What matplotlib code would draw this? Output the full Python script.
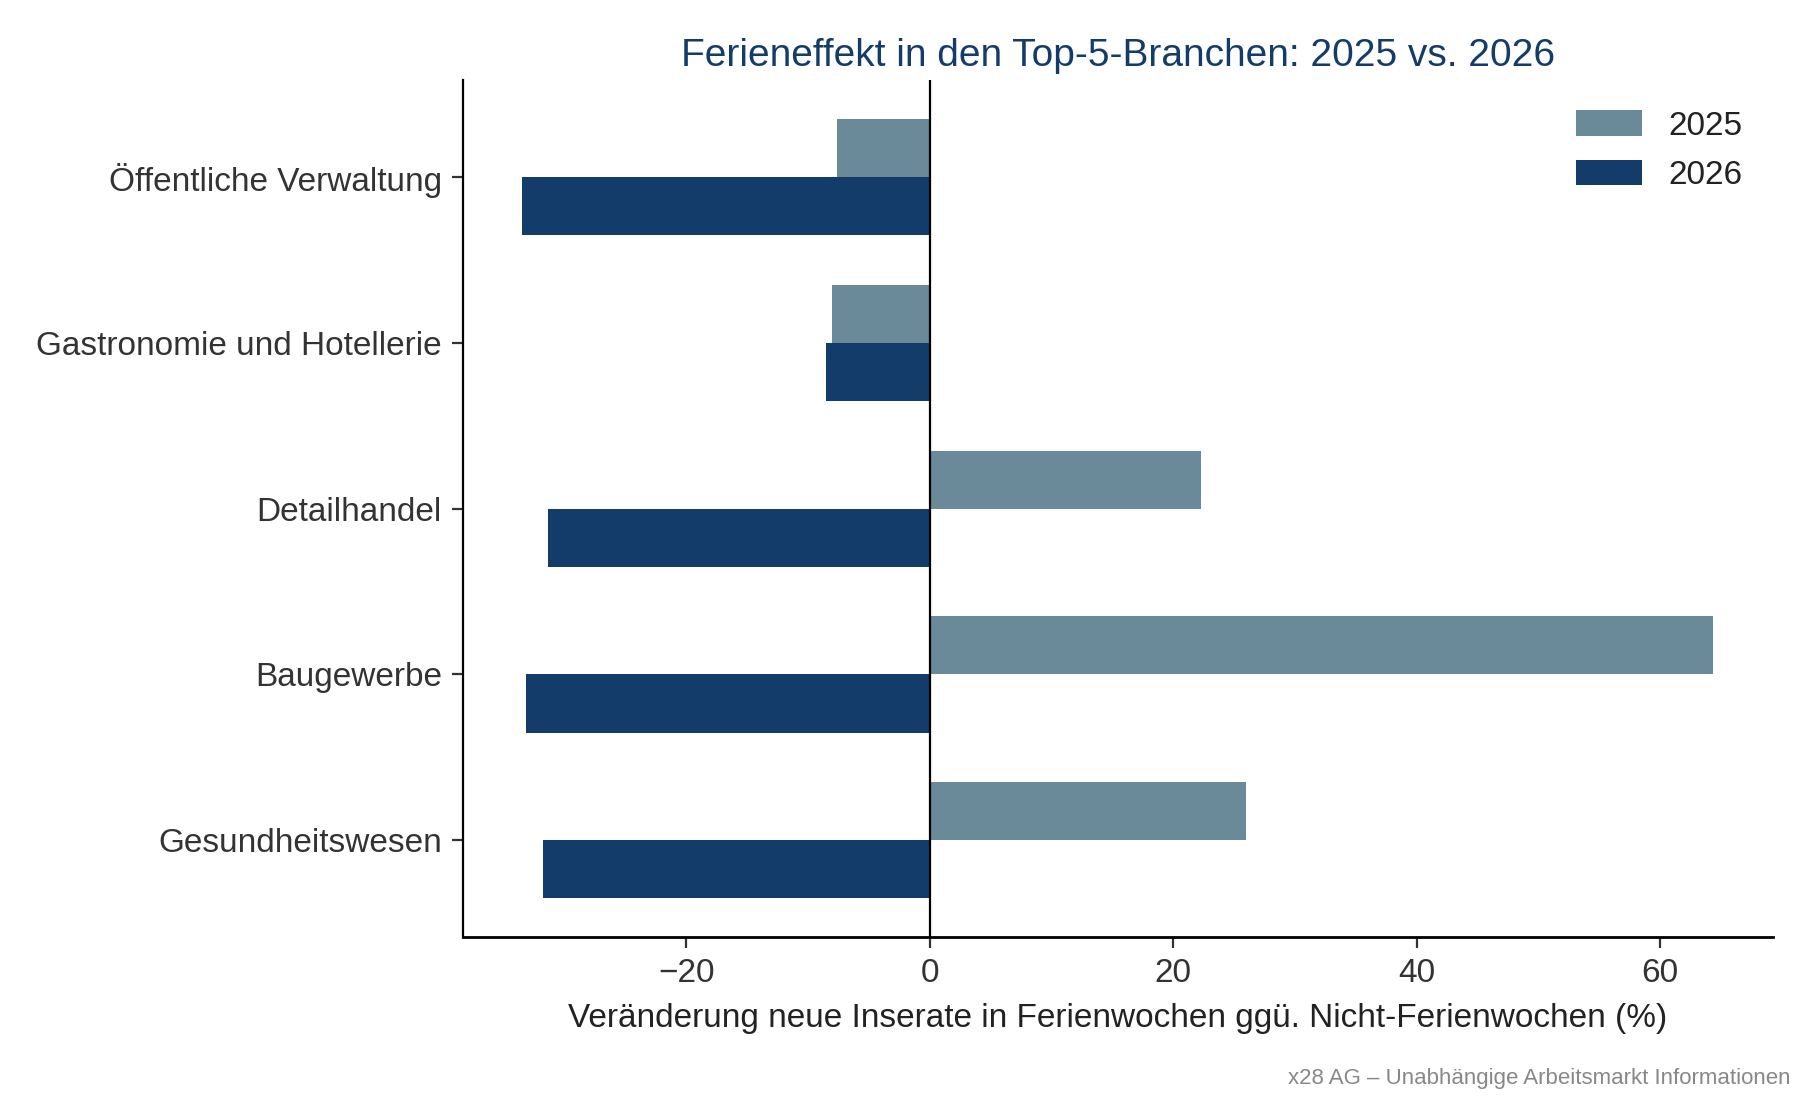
import matplotlib
matplotlib.use("Agg")
import matplotlib.pyplot as plt
import numpy as np

plt.rcParams['font.family'] = ['Liberation Sans', 'DejaVu Sans']

branchen = ['Öffentliche Verwaltung', 'Gastronomie und Hotellerie', 'Detailhandel',
            'Baugewerbe', 'Gesundheitswesen']
werte_2025 = [-7.6, -8.0, 22.3, 64.4, 26.0]
werte_2026 = [-33.5, -8.5, -31.4, -33.2, -31.8]

farbe_2025 = '#6b8a99'
farbe_2026 = '#143c6b'
textfarbe = '#333333'

fig = plt.figure(figsize=(9, 5.5), dpi=200)
ax = fig.add_axes([0.257, 0.148, 0.728, 0.779])

y = np.arange(len(branchen))
h = 0.35
ax.barh(y - h / 2, werte_2025, height=h, color=farbe_2025, label='2025')
ax.barh(y + h / 2, werte_2026, height=h, color=farbe_2026, label='2026')
ax.invert_yaxis()

ax.axvline(0, color='black', linewidth=0.8)

ax.set_yticks(y)
ax.set_yticklabels(branchen)
ax.set_xticks([-20, 0, 20, 40, 60])
ax.set_xticklabels(['\u221220', '0', '20', '40', '60'])
ax.tick_params(axis='both', labelsize=12, colors=textfarbe, length=4, width=0.8)
for lbl in ax.get_xticklabels() + ax.get_yticklabels():
    lbl.set_color(textfarbe)

for s in ['top', 'right']:
    ax.spines[s].set_visible(False)
ax.spines['left'].set_linewidth(0.8)
ax.spines['bottom'].set_linewidth(1.0)

ax.set_xlabel('Veränderung neue Inserate in Ferienwochen ggü. Nicht-Ferienwochen (%)',
              fontsize=12, color='#222222', labelpad=5)
ax.set_title('Ferieneffekt in den Top-5-Branchen: 2025 vs. 2026',
             fontsize=14, color='#143c6b', pad=5)

leg = ax.legend(loc='upper right', frameon=False, fontsize=12,
                handlelength=2.0, handleheight=0.8, labelspacing=0.55)
for t in leg.get_texts():
    t.set_color('#222222')

fig.text(0.995, 0.01, 'x28 AG \u2013 Unabhängige Arbeitsmarkt Informationen',
         ha='right', va='bottom', fontsize=8, color='#888888')

fig.savefig('out.png', dpi=200)
